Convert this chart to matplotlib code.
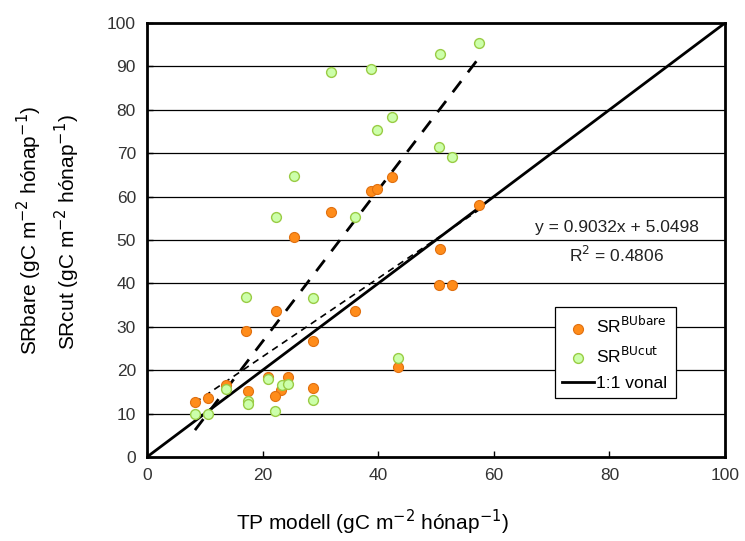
import matplotlib
matplotlib.use("Agg")
import matplotlib.pyplot as plt
import numpy as np

plt.rcParams['font.family'] = ['Liberation Sans', 'DejaVu Sans']

# SR bare (narancs)
bare_x = [25.5, 50.7, 50.5, 52.8, 22.3, 36.0, 17.1, 28.7, 43.5, 24.4, 21.0,
          23.2, 22.1, 28.7, 17.4, 13.7, 10.6, 8.3, 31.8, 38.8, 39.8, 42.3, 57.5]
bare_y = [50.6, 47.9, 39.6, 39.6, 33.6, 33.6, 29.0, 26.8, 20.7, 18.5, 18.4,
          15.4, 14.1, 15.9, 15.2, 16.6, 13.5, 12.6, 56.5, 61.4, 61.8, 64.6, 58.1]

# SR cut (zöld)
cut_x = [17.1, 28.7, 43.5, 21.0, 23.3, 24.4, 13.7, 17.4, 17.4, 28.7, 22.1, 8.3,
         10.6, 31.8, 38.7, 42.3, 39.8, 25.5, 22.3, 36.0, 50.7, 57.5, 50.5, 52.7]
cut_y = [36.8, 36.6, 22.9, 18.0, 16.6, 16.8, 15.6, 13.0, 12.2, 13.1, 10.7, 9.9,
         10.0, 88.8, 89.3, 78.4, 75.3, 64.8, 55.4, 55.4, 92.8, 95.5, 71.5, 69.2]

# trendvonalak (meredekség, tengelymetszet)
bare_fit = (0.9032, 5.0498)
bare_r2 = 0.4806
cut_fit = (1.746, -8.3)

ticks = [0, 20, 40, 60, 80, 100]
yticks = list(range(0, 101, 10))

fig = plt.figure(figsize=(7.45, 5.41), dpi=100)
ax = fig.add_axes([0.1973, 0.1553, 0.7759, 0.8022])

for yv in yticks[1:-1]:
    ax.axhline(yv, color='black', lw=0.9, zorder=1)

# 1:1 vonal
ax.plot([0, 100], [0, 100], color='black', lw=2, zorder=3, label='1:1 vonal')

# trendvonalak
xb = np.array([min(bare_x), max(bare_x)])
ax.plot(xb, bare_fit[0] * xb + bare_fit[1], color='black', lw=1.2,
        ls=(0, (4, 3)), zorder=3)
xc = np.array([min(cut_x), max(cut_x)])
ax.plot(xc, cut_fit[0] * xc + cut_fit[1], color='black', lw=2,
        ls=(0, (5, 4)), zorder=3)

ax.scatter(bare_x, bare_y, s=52, color='#ff8c1a', edgecolor='#e07010',
           linewidth=0.8, zorder=4, label=r'SR$^{\mathrm{BUbare}}$')
ax.scatter(cut_x, cut_y, s=50, color='#ccffaa', edgecolor='#99cc44',
           linewidth=1.0, zorder=4, label=r'SR$^{\mathrm{BUcut}}$')

ax.text(81.3, 52.8, f"y = {bare_fit[0]:.4f}x + {bare_fit[1]:.4f}",
        ha='center', va='center', fontsize=12.5, color='#222222')
ax.text(81.3, 46.5, f"R$^2$ = {bare_r2:.4f}",
        ha='center', va='center', fontsize=12.5, color='#222222')

ax.set_xlim(0, 100)
ax.set_ylim(0, 100)
ax.set_xticks(ticks)
ax.set_yticks(yticks)
ax.tick_params(direction='in', labelsize=12.5, labelcolor='#333333',
               length=4, width=1, pad=8)
for s in ax.spines.values():
    s.set_linewidth(2)

handles, labels = ax.get_legend_handles_labels()
order = [1, 2, 0]
leg = ax.legend([handles[i] for i in order], [labels[i] for i in order],
                loc='lower left', bbox_to_anchor=(0.705, 0.135, 0.21, 0.22),
                mode='expand', fontsize=12.5, frameon=True, fancybox=False,
                edgecolor='black', framealpha=1, handlelength=1.8,
                handletextpad=0.15, borderpad=0.45, borderaxespad=0.0,
                labelspacing=0.55)
leg.get_frame().set_linewidth(0.9)

fig.text(0.5, 0.035, r"TP modell (gC m$^{-2}$ hónap$^{-1}$)", ha='center',
         va='center', fontsize=15)
fig.text(0.04, 0.575, r"SRbare (gC m$^{-2}$ hónap$^{-1}$)", rotation=90,
         ha='center', va='center', fontsize=15)
fig.text(0.091, 0.57, r"SRcut (gC m$^{-2}$ hónap$^{-1}$)", rotation=90,
         ha='center', va='center', fontsize=15)

fig.savefig("out.png", dpi=100)
